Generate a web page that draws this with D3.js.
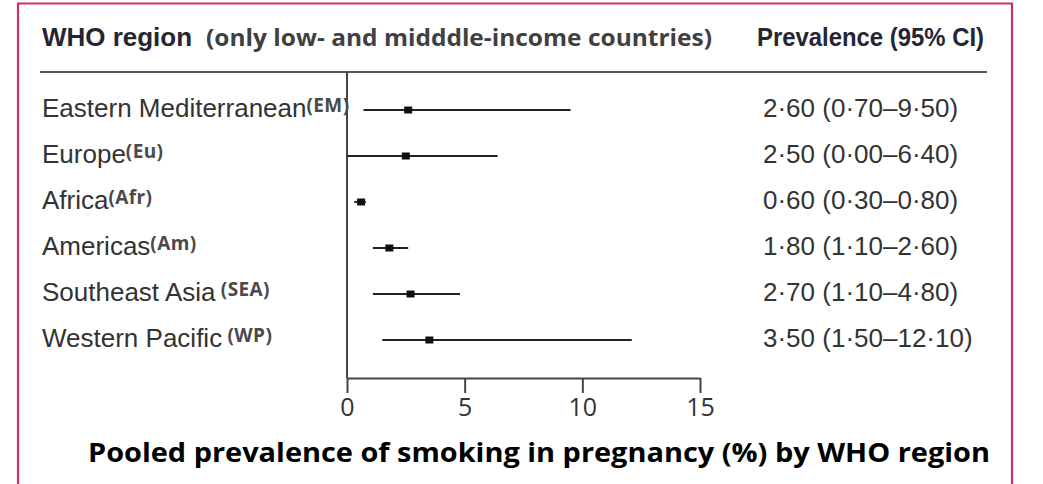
<!DOCTYPE html>
<html>
<head>
<meta charset="utf-8">
<script src="https://cdn.jsdelivr.net/npm/d3@7"></script>
<style>
  html, body { margin: 0; padding: 0; background: #fff; }
  svg { display: block; }
  text { white-space: pre; }
</style>
</head>
<body>
<svg id="chart" width="1043" height="484"></svg>
<script>
// Pooled prevalence of smoking in pregnancy by WHO region (low- and middle-income countries)
const regions = ["Eastern Mediterranean", "Europe", "Africa", "Americas", "Southeast Asia", "Western Pacific"];
const regionCodes = ["(EM)", "(Eu)", "(Afr)", "(Am)", " (SEA)", " (WP)"];
const prevalence = [2.60, 2.50, 0.60, 1.80, 2.70, 3.50];
const ciLower = [0.70, 0.00, 0.30, 1.10, 1.10, 1.50];
const ciUpper = [9.50, 6.40, 0.80, 2.60, 4.80, 12.10];
const xTicks = [0, 5, 10, 15];

const headerLeft = "WHO region";
const headerNote = "(only low- and midddle-income countries)";
const headerRight = "Prevalence (95% CI)";
const chartTitle = "Pooled prevalence of smoking in pregnancy (%) by WHO region";

const svg = d3.select("#chart");

const rows = regions.map((name, i) => ({
  name, code: regionCodes[i], est: prevalence[i], lo: ciLower[i], hi: ciUpper[i]
}));

const x = d3.scaleLinear().domain([0, 15]).range([347, 700]);
const y = d3.scalePoint().domain(regions).range([110, 340]);

// Outer frame (open at the bottom)
svg.append("path")
  .attr("d", "M18,490 V3.5 H1012 V490")
  .attr("fill", "none")
  .attr("stroke", "#c9345e")
  .attr("stroke-width", 2.2);

// Column headers
svg.append("text")
  .attr("x", 42).attr("y", 46)
  .attr("font-family", "Liberation Sans, Arial, sans-serif")
  .attr("font-weight", "bold")
  .attr("font-size", 26)
  .attr("fill", "#262633")
  .attr("textLength", 150).attr("lengthAdjust", "spacingAndGlyphs")
  .text(headerLeft);

svg.append("text")
  .attr("x", 206).attr("y", 46)
  .attr("font-family", "Open Sans, sans-serif")
  .attr("font-weight", "bold")
  .attr("font-size", 23)
  .attr("fill", "#404040")
  .attr("textLength", 506).attr("lengthAdjust", "spacingAndGlyphs")
  .text(headerNote);

svg.append("text")
  .attr("x", 757).attr("y", 46)
  .attr("font-family", "Liberation Sans, Arial, sans-serif")
  .attr("font-weight", "bold")
  .attr("font-size", 25)
  .attr("fill", "#262633")
  .attr("textLength", 227).attr("lengthAdjust", "spacingAndGlyphs")
  .text(headerRight);

// Header rule
svg.append("line")
  .attr("x1", 40).attr("x2", 987)
  .attr("y1", 72).attr("y2", 72)
  .attr("stroke", "#555").attr("stroke-width", 2);

// Vertical reference line at zero
svg.append("line")
  .attr("x1", x(0)).attr("x2", x(0))
  .attr("y1", 72).attr("y2", 378)
  .attr("stroke", "#444").attr("stroke-width", 2);

// X axis
const axis = svg.append("g")
  .attr("transform", "translate(0,378)")
  .call(d3.axisBottom(x).tickValues(xTicks).tickSize(15).tickSizeOuter(0).tickPadding(5));
axis.select(".domain").attr("stroke", "#444").attr("stroke-width", 2);
axis.selectAll(".tick line").attr("stroke", "#444").attr("stroke-width", 2);
axis.selectAll(".tick text")
  .attr("font-family", "Open Sans, sans-serif")
  .attr("font-size", 25)
  .attr("fill", "#333");

// Region labels with abbreviations
const labels = svg.append("g").selectAll("text")
  .data(rows).join("text")
  .attr("x", 42)
  .attr("y", d => y(d.name) + 7)
  .attr("fill", "#333");
labels.append("tspan")
  .attr("font-family", "Liberation Sans, Arial, sans-serif")
  .attr("font-size", 26)
  .text(d => d.name);
labels.append("tspan")
  .attr("font-family", "Open Sans, sans-serif")
  .attr("font-weight", "bold")
  .attr("font-size", 19)
  .attr("letter-spacing", 0.4)
  .attr("fill", "#4a4a4a")
  .attr("dy", -5)
  .text(d => d.code);

// Confidence intervals
svg.append("g").selectAll("line")
  .data(rows).join("line")
  .attr("x1", d => x(d.lo)).attr("x2", d => x(d.hi))
  .attr("y1", d => y(d.name)).attr("y2", d => y(d.name))
  .attr("stroke", "#222").attr("stroke-width", 1.8);

// Point estimates
svg.append("g").selectAll("rect")
  .data(rows).join("rect")
  .attr("x", d => x(d.est) - 4)
  .attr("y", d => y(d.name) - 3.5)
  .attr("width", 8).attr("height", 7)
  .attr("fill", "#111");

// Estimate text column
const fmt = v => d3.format(".2f")(v).replace(".", "\u00b7");
svg.append("g").selectAll("text")
  .data(rows).join("text")
  .attr("x", 763)
  .attr("y", d => y(d.name) + 7)
  .attr("font-family", "Liberation Sans, Arial, sans-serif")
  .attr("font-size", 26)
  .attr("fill", "#333")
  .text(d => `${fmt(d.est)} (${fmt(d.lo)}\u2013${fmt(d.hi)})`);

// Chart title
svg.append("text")
  .attr("x", 88).attr("y", 462)
  .attr("font-family", "Open Sans, sans-serif")
  .attr("font-weight", "bold")
  .attr("font-size", 27)
  .attr("fill", "#000")
  .attr("textLength", 902).attr("lengthAdjust", "spacingAndGlyphs")
  .text(chartTitle);
</script>
</body>
</html>
